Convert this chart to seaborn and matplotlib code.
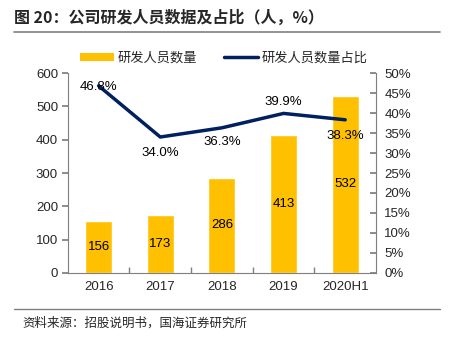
import matplotlib
matplotlib.use("Agg")
import matplotlib.pyplot as plt
import seaborn as sns
import pandas as pd
from matplotlib.lines import Line2D
from matplotlib.patches import Patch

categories = ["2016", "2017", "2018", "2019", "2020H1"]
staff = [156, 173, 286, 413, 532]
ratio = [46.8, 34.0, 36.3, 39.9, 38.3]
left_ticks = [0, 100, 200, 300, 400, 500, 600]
right_ticks = [0, 5, 10, 15, 20, 25, 30, 35, 40, 45, 50]

sns.set_theme(style="white")
plt.rcParams['font.family'] = ['Liberation Sans', 'Noto Sans CJK SC', 'DejaVu Sans']

bar_c = "#FFC000"
line_c = "#002060"
spine_c = "#7f7f7f"

df = pd.DataFrame({"cat": categories, "staff": staff, "ratio": ratio})

fig = plt.figure(figsize=(4.52, 3.42), dpi=100)
ax = fig.add_axes([0.150, 0.2018, 0.682, 0.5847])
sns.barplot(data=df, x="cat", y="staff", color=bar_c, width=0.44, ax=ax, saturation=1)
ax.set_ylim(0, 600)
ax.set_yticks(left_ticks)
ax.set_xlim(-0.5, 4.5)
ax.set_xlabel("")
ax.set_ylabel("")
for i, v in enumerate(staff):
    ax.text(i, v / 2, str(v), ha="center", va="center", fontsize=9.5, color="black")

ax2 = ax.twinx()
sns.lineplot(x=list(range(len(categories))), y=ratio, color=line_c, linewidth=2.5, ax=ax2)
ax2.set_ylim(0, 50)
ax2.set_yticks(right_ticks)
ax2.set_yticklabels([f"{t}%" for t in right_ticks])
offsets = [-0.4, -4.0, -3.5, 2.8, -4.1]
for i, (v, o) in enumerate(zip(ratio, offsets)):
    ax2.text(i, v + o, f"{v:.1f}%", ha="center", va="center", fontsize=9.5, color="black")

for a in (ax, ax2):
    a.spines["top"].set_visible(False)
    for s in ["left", "right", "bottom"]:
        a.spines[s].set_color(spine_c)
        a.spines[s].set_linewidth(0.8)
ax.spines["right"].set_visible(False)
ax2.spines["left"].set_visible(False)
ax2.spines["bottom"].set_visible(False)

ax.tick_params(axis="y", direction="out", length=4, color=spine_c, labelsize=9.5, left=True, pad=3)
ax.tick_params(axis="x", length=0, labelsize=9.5, pad=6)
ax.set_xticks(range(len(categories)))
ax.set_xticks([0.5, 1.5, 2.5, 3.5], minor=True)
ax.tick_params(axis="x", which="minor", direction="in", length=4, color=spine_c, bottom=True)
ax2.tick_params(axis="y", direction="in", length=4, color=spine_c, labelsize=9.5, right=True, pad=6)

handles = [Patch(facecolor=bar_c, edgecolor="none"), Line2D([0], [0], color=line_c, lw=2.5)]
fig.legend(handles, ["研发人员数量", "研发人员数量占比"], loc="center", bbox_to_anchor=(0.495, 0.83),
           ncol=2, frameon=False, handlelength=2.6, handleheight=0.5,
           columnspacing=2.0, handletextpad=0.25, prop={"family": ["Noto Sans CJK SC"], "size": 9.5})

fig.text(0.031, 0.947, "图 20：公司研发人员数据及占比（人，%）", ha="left", va="center",
         fontsize=11.5, fontweight="bold", family=["Noto Sans CJK SC"])
fig.text(0.049, 0.056, "资料来源：招股说明书，国海证券研究所", ha="left", va="center",
         fontsize=9, family=["Noto Sans CJK SC"])
fig.add_artist(Line2D([0.031, 0.973], [0.906, 0.906], color="#808080", lw=1.2))
fig.add_artist(Line2D([0.031, 0.973], [0.096, 0.096], color="#808080", lw=1.0))

fig.savefig("out.png", dpi=100)
